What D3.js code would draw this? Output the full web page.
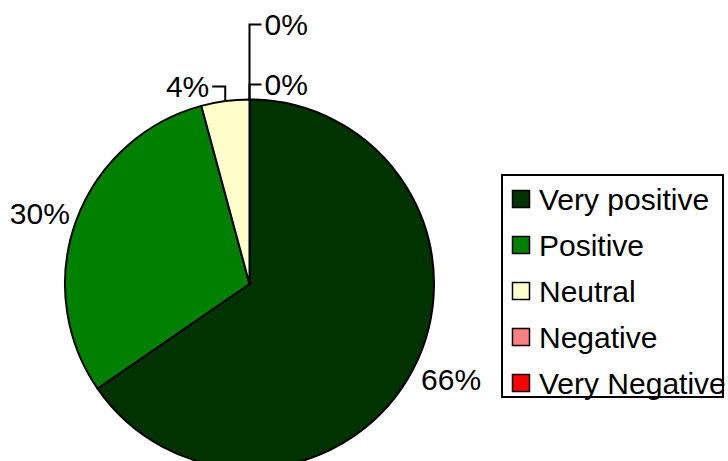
<!DOCTYPE html>
<html>
<head>
<meta charset="utf-8">
<script src="https://cdn.jsdelivr.net/npm/d3@7"></script>
<style>
html,body{margin:0;padding:0;background:#fff;}
svg{display:block;font-family:"Liberation Sans",Arial,sans-serif;}
</style>
</head>
<body>
<svg id="chart" width="728" height="461"></svg>
<script>
const categories = ["Very positive", "Positive", "Neutral", "Negative", "Very Negative"];
const values = [65.4, 30.4, 4.2, 0, 0];
const labels = ["66%", "30%", "4%", "0%", "0%"];
const colors = ["#003300", "#008000", "#FFFFCC", "#FF8080", "#FF0000"];

const svg = d3.select("#chart");
const cx = 249.5, cy = 284, r = 184.5;
const fontSize = 30;

const pie = d3.pie().sort(null).value(d => d.v);
const data = categories.map((c, i) => ({c, v: values[i], label: labels[i], color: colors[i]}));
const arcs = pie(data);
const arc = d3.arc().innerRadius(0).outerRadius(r);

const g = svg.append("g").attr("transform", `translate(${cx},${cy})`);
g.selectAll("path.slice").data(arcs.filter(a => a.data.v > 0)).join("path")
  .attr("class", "slice")
  .attr("d", arc)
  .attr("fill", d => d.data.color)
  .attr("stroke", "#000")
  .attr("stroke-width", 2)
  .attr("stroke-linejoin", "round");

// labels
const lbl = g.append("g").attr("font-size", fontSize).attr("fill", "#000");
let zeroCount = 0;
arcs.forEach(a => {
  const mid = (a.startAngle + a.endAngle) / 2;
  const share = a.data.v / d3.sum(values);
  if (share >= 0.1) {
    const x = Math.sin(mid) * (r + 41) + 2;
    const y = -Math.cos(mid) * (r + 20.5);
    lbl.append("text").attr("x", x).attr("y", y)
      .attr("text-anchor", "middle").attr("dy", "0.35em").text(a.data.label);
  } else if (a.data.v > 0) {
    // small slice: leader line to the left
    const ang = mid;
    const px = Math.sin(ang) * r, py = -Math.cos(ang) * r;
    const ly = -r - 13;
    lbl.append("path")
      .attr("d", `M${px},${py}V${ly}H${px - 13}`)
      .attr("fill", "none").attr("stroke", "#000").attr("stroke-width", 2);
    lbl.append("text").attr("x", px - 16).attr("y", ly).attr("dy", "0.35em")
      .attr("text-anchor", "end").text(a.data.label);
  } else {
    // zero slices stacked above the top of the pie
    const px = Math.sin(a.startAngle) * r;
    const ly = -r - 15 - zeroCount * 60;
    zeroCount++;
    lbl.append("path")
      .attr("d", `M${px},${-r}V${ly}H${px + 12}`)
      .attr("fill", "none").attr("stroke", "#000").attr("stroke-width", 2);
    lbl.append("text").attr("x", px + 15).attr("y", ly).attr("dy", "0.35em")
      .text(a.data.label);
  }
});

// legend
const legend = svg.append("g");
legend.append("rect").attr("x", 502).attr("y", 175).attr("width", 221).attr("height", 222)
  .attr("fill", "#fff").attr("stroke", "#000").attr("stroke-width", 2);
const ly0 = 199, lstep = 46;
const items = legend.selectAll("g.item").data(data).join("g").attr("class", "item")
  .attr("transform", (d, i) => `translate(0,${ly0 + i * lstep})`);
items.append("rect").attr("x", 512.5).attr("y", -8.5).attr("width", 17).attr("height", 17)
  .attr("fill", d => d.color).attr("stroke", "#000").attr("stroke-width", 1.5);
items.append("text").attr("x", 539).attr("y", 0).attr("dy", "0.35em")
  .attr("font-size", fontSize).text(d => d.c);
</script>
</body>
</html>
